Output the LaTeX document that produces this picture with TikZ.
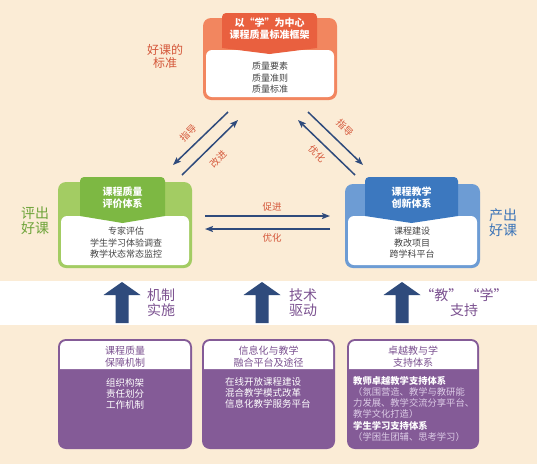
\documentclass[tikz,border=0pt]{standalone}
\usepackage{fontspec}
\setmainfont{Noto Sans CJK SC}
\usetikzlibrary{arrows.meta}
\definecolor{bg}{HTML}{FBECD6}
\definecolor{otab}{HTML}{E9603F}
\definecolor{oout}{HTML}{F2865F}
\definecolor{otxt}{HTML}{D4573A}
\definecolor{gtab}{HTML}{7DB843}
\definecolor{gout}{HTML}{A3CC63}
\definecolor{gtxt}{HTML}{6EA43A}
\definecolor{btab}{HTML}{3C78BF}
\definecolor{bout}{HTML}{6D9CD4}
\definecolor{btxt}{HTML}{3B74B8}
\definecolor{navy}{HTML}{2F4B7C}
\definecolor{purp}{HTML}{845B97}
\definecolor{ptxt}{HTML}{7B5190}
\definecolor{lav}{HTML}{DCCBE6}
\definecolor{grey}{HTML}{444444}
\tikzset{
  ttl/.style={text=white,font=\fontsize{10}{12}\selectfont\bfseries,align=center,inner sep=0pt},
  body/.style={text=grey,font=\fontsize{9}{11.5}\selectfont,align=center,inner sep=0pt},
  side/.style={font=\fontsize{14}{15.5}\selectfont,align=center,inner sep=0pt},
  lbl/.style={text=otxt,font=\fontsize{9.5}{11}\selectfont,inner sep=0pt},
  conn/.style={draw=navy,line width=1.5pt,-{Stealth[length=8pt,width=6pt,inset=1.5pt]}},
  blk/.style={fill=navy},
  ptitle/.style={text=ptxt,font=\fontsize{10}{11.5}\selectfont,align=center,inner sep=0pt},
  pbody/.style={text=white,font=\fontsize{9.5}{11.3}\selectfont,align=left,inner sep=0pt},
}
\begin{document}
\begin{tikzpicture}[x=1pt,y=-1pt]
\useasboundingbox (0,0) rectangle (537,464);
\fill[bg] (0,0) rectangle (537,464);
\fill[white] (0,281) rectangle (537,325);

% ---------- top box ----------
\fill[oout,rounded corners=8] (203,18) rectangle (337,100);
\fill[white,rounded corners=6] (206,50) rectangle (334,97);
\fill[otab] (222,48) [rounded corners=4]-- (222,13) -- (317,13) [sharp corners]-- (317,48) -- (269.5,54) -- cycle;
\node[ttl] (toptitle) at (269.5,29) {以“学”为中心\\课程质量标准框架};
\node[body] (topbody) at (270,78) {质量要素\\质量准则\\质量标准};
\node[side,text=otxt,font=\fontsize{12}{13}\selectfont] (stdlbl) at (165,56.5) {好课的\\标准};

% ---------- green box ----------
\fill[gout,rounded corners=8] (58,182) rectangle (192,268);
\fill[white,rounded corners=6] (61,216) rectangle (189,265);
\fill[gtab] (80,216) [rounded corners=4]-- (80,177) -- (165,177) [sharp corners]-- (165,216) -- (122.5,223) -- cycle;
\node[ttl] (gtitle) at (122.5,197.5) {课程质量\\评价体系};
\node[body] (gbody) at (126,243) {专家评估\\学生学习体验调查\\教学状态常态监控};
\node[side,text=gtxt] (glbl) at (35,220.5) {评出\\好课};

% ---------- blue box ----------
\fill[bout,rounded corners=8] (345,184) rectangle (480,268);
\fill[white,rounded corners=6] (348,216) rectangle (477,265);
\fill[btab] (365,216) [rounded corners=4]-- (365,177) -- (458,177) [sharp corners]-- (458,216) -- (411.5,223) -- cycle;
\node[ttl] (btitle) at (411.5,197.5) {课程教学\\创新体系};
\node[body] (bbody) at (412,243) {课程建设\\教改项目\\跨学科平台};
\node[side,text=btxt] (blbl) at (503,222.5) {产出\\好课};

% ---------- connectors ----------
\coordinate (l1s) at (228,112); \coordinate (l1e) at (173,165);
\coordinate (l2s) at (182,175); \coordinate (l2e) at (238,120);
\coordinate (r1s) at (308,112); \coordinate (r1e) at (363,165);
\coordinate (r2s) at (355,175); \coordinate (r2e) at (298,120);
\coordinate (h1s) at (205,216); \coordinate (h1e) at (330,216);
\coordinate (h2s) at (330,229); \coordinate (h2e) at (205,229);
\draw[conn] (l1s) -- (l1e);
\draw[conn] (l2s) -- (l2e);
\draw[conn] (r1s) -- (r1e);
\draw[conn] (r2s) -- (r2e);
\draw[conn] (h1s) -- (h1e);
\draw[conn] (h2s) -- (h2e);
\node[lbl,rotate=45] (lab1) at (188,133) {指导};
\node[lbl,rotate=45] (lab2) at (218,159) {改进};
\node[lbl,rotate=-45] (lab3) at (345,128) {指导};
\node[lbl,rotate=-45] (lab4) at (317,154) {优化};
\node[lbl] (lab5) at (272,207) {促进};
\node[lbl] (lab6) at (272,238) {优化};

% ---------- block arrows ----------
\foreach \c/\n in {122/ba1,262/ba2,402/ba3}{
  \fill[blk] (\c-6.5,323) -- (\c-6.5,295) -- (\c-18.5,295) -- (\c,282) -- (\c+18.5,295) -- (\c+6.5,295) -- (\c+6.5,323) -- cycle;
}
\node[side,text=ptxt] (m1) at (161,302.5) {机制\\实施};
\node[side,text=ptxt] (m2) at (303,302.5) {技术\\驱动};
\node[side,text=ptxt] (m3) at (464,302.5) {“教”\ “学”\\支持};

% ---------- bottom boxes ----------
\foreach \xa/\xb in {58/192,202/335,347/479}{
  \fill[purp,rounded corners=8] (\xa,339) rectangle (\xb,449);
  \fill[white] (\xa+2,369) [rounded corners=6]-- (\xa+2,341) -- (\xb-2,341) [sharp corners]-- (\xb-2,369) -- cycle;
}
\node[ptitle] (p1t) at (125,356.5) {课程质量\\保障机制};
\node[ptitle] (p2t) at (268.5,356.5) {信息化与教学\\融合平台及途径};
\node[ptitle] (p3t) at (413,356.5) {卓越教与学\\支持体系};
\node[pbody,align=center] (p1b) at (125,394) {组织构架\\责任划分\\工作机制};
\node[pbody,anchor=north west] (p2b) at (225,377) {在线开放课程建设\\混合教学模式改革\\信息化教学服务平台};
\node[pbody,anchor=north west,font=\fontsize{9.3}{10.8}\selectfont] (p3b) at (353,376.5) {\textbf{教师卓越教学支持体系}\\\textcolor{lav}{（氛围营造、教学与教研能}\\\textcolor{lav}{力发展、教学交流分享平台、}\\\textcolor{lav}{教学文化打造）}\\[2pt]\textbf{学生学习支持体系}\\\textcolor{lav}{（学困生团辅、思考学习）}};
\end{tikzpicture}
\end{document}
